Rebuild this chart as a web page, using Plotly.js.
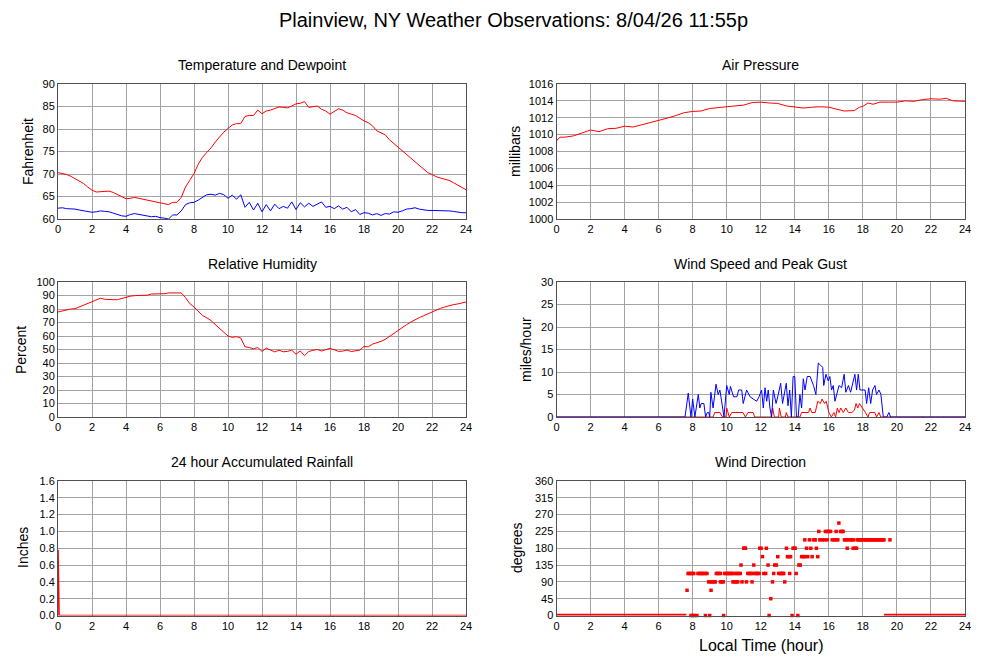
<!DOCTYPE html>
<html>
<head>
<meta charset="utf-8">
<script src="https://cdn.plot.ly/plotly-3.0.1.min.js"></script>
<style>html,body{margin:0;padding:0;background:#fff;}#chart{width:1000px;height:660px;}</style>
</head>
<body>
<div id="chart"></div>
<script>
// ---------- DATA ----------
var hourTicks = [0,2,4,6,8,10,12,14,16,18,20,22,24];

var qHours = [0,0.25,0.5,0.75,1,1.25,1.5,1.75,2,2.25,2.5,2.75,3,3.25,3.5,3.75,4,4.25,4.5,4.75,5,5.25,5.5,5.75,6,6.25,6.5,6.75,7,7.25,7.5,7.75,8,8.25,8.5,8.75,9,9.25,9.5,9.75,10,10.25,10.5,10.75,11,11.25,11.5,11.75,12,12.25,12.5,12.75,13,13.25,13.5,13.75,14,14.25,14.5,14.75,15,15.25,15.5,15.75,16,16.25,16.5,16.75,17,17.25,17.5,17.75,18,18.25,18.5,18.75,19,19.25,19.5,19.75,20,20.25,20.5,20.75,21,21.25,21.5,21.75,22,22.25,22.5,22.75,23,23.25,23.5,23.75,24];

var temperature = [70.3,70.1,69.9,69.5,69.0,68.5,67.9,67.1,66.4,66.0,66.1,66.2,66.2,65.9,65.4,65.0,64.5,64.6,64.8,64.6,64.4,64.2,64.0,63.8,63.6,63.4,63.2,63.7,63.7,64.8,67.1,68.6,70.1,72.2,73.7,74.8,75.8,77.1,78.3,79.3,80.1,80.9,81.2,81.2,82.8,83.0,83.0,84.2,83.4,84.0,84.2,84.6,84.9,84.8,84.7,85.1,85.6,85.7,86.1,84.8,84.9,85.1,84.4,84.0,83.3,84.0,84.5,84.2,83.6,83.3,83.0,82.4,81.8,81.4,80.7,79.6,79.1,78.7,77.6,76.8,76.0,75.2,74.4,73.6,72.7,71.8,71.0,70.3,69.9,69.4,69.1,68.8,68.6,68.1,67.6,67.1,66.5];

var dewpoint = [62.4,62.5,62.3,62.3,62.2,62.0,61.8,61.6,61.5,61.6,61.8,61.7,61.6,61.3,61.0,60.7,60.6,61.0,61.2,61.0,60.9,60.7,60.5,60.6,60.3,60.2,60.0,60.9,60.9,61.8,63.2,63.6,63.7,64.2,64.9,65.4,65.5,65.3,65.7,65.4,64.6,65.3,64.4,65.4,62.6,63.7,62.0,63.5,61.6,63.2,61.8,63.3,62.3,62.8,62.4,63.8,62.1,63.6,62.7,63.5,62.8,63.3,63.8,62.6,62.8,62.3,62.9,62.2,62.6,61.6,62.1,61.0,61.4,61.3,60.9,61.2,60.8,61.2,61.1,61.6,61.5,61.8,62.2,62.3,62.5,62.2,62.0,61.9,61.9,61.9,61.8,61.9,61.8,61.7,61.5,61.4,61.4];

var humidity = [77.8,78.5,79.5,80.0,80.2,81.5,83.0,84.2,85.7,87.0,88.0,87.2,86.9,86.9,86.9,87.8,88.9,89.5,89.9,89.9,89.9,90.2,91.1,91.1,91.1,91.3,91.9,91.9,91.9,91.9,88.5,84.0,81.5,78.5,75.2,73.5,71.4,68.5,65.5,62.5,60.0,59.0,59.5,58.5,52.0,51.5,50.5,51.5,48.6,51.0,49.5,48.2,49.5,48.3,48.6,49.5,46.5,49.0,45.4,48.5,49.4,50.0,48.9,49.6,50.8,49.8,48.6,48.8,49.6,48.5,49.2,49.5,52.3,52.0,54.0,54.8,56.0,57.5,59.8,62.0,64.0,66.2,68.4,70.3,72.1,73.6,75.0,76.5,78.0,79.3,80.5,81.5,82.5,83.2,83.7,84.5,85.2];

var pressureHours = [0,0.2,0.5,1,1.5,2,2.5,3,3.5,4,4.5,5,5.5,6,6.5,7,7.5,8,8.5,9,9.5,10,10.5,11,11.5,12,12.5,13,13.5,14,14.5,15,15.5,16,16.5,16.9,17.5,17.8,18,18.3,18.6,19,19.5,20,20.5,21,21.5,22,22.5,22.9,23.3,24];
var pressure = [1009.25,1009.7,1009.7,1009.85,1010.2,1010.55,1010.35,1010.7,1010.75,1011.0,1010.9,1011.15,1011.45,1011.7,1011.95,1012.25,1012.6,1012.75,1012.8,1013.1,1013.2,1013.3,1013.35,1013.5,1013.8,1013.85,1013.75,1013.7,1013.4,1013.3,1013.15,1013.25,1013.3,1013.25,1013.05,1012.8,1012.85,1013.25,1013.35,1013.75,1013.6,1013.85,1013.85,1013.85,1014.0,1013.95,1014.15,1014.25,1014.2,1014.3,1014.0,1013.95];

var gustHours = [0,7.55,7.74,7.9,8.0,8.13,8.33,8.42,8.5,8.66,8.76,8.86,8.95,9.0,9.07,9.2,9.37,9.5,9.6,9.7,9.84,10.0,10.15,10.22,10.4,10.6,10.7,10.88,10.97,11.17,11.37,11.56,11.76,11.9,12.05,12.15,12.25,12.35,12.44,12.54,12.64,12.74,12.9,13.03,13.17,13.28,13.42,13.5,13.6,13.7,13.8,13.9,14.0,14.1,14.2,14.3,14.4,14.5,14.6,14.73,14.9,15.1,15.24,15.38,15.52,15.64,15.7,15.83,15.97,16.06,16.16,16.26,16.36,16.5,16.6,16.75,16.9,17.0,17.15,17.28,17.44,17.53,17.63,17.73,17.83,17.98,18.13,18.22,18.34,18.46,18.57,18.71,18.8,18.95,19.06,19.2,19.4,19.53,19.63,24];
var peakGust = [0,0,5.3,0,4,0,5,2,3,3,0,1,1,0,5.5,2,7.3,5,6,3,0,7,5,6.8,4.5,4.5,6,6,3,6,4.5,4,3.5,4.5,6,2,6.5,3.5,6,2,0,6,3,5,7.5,3,5.5,7.5,2.5,6,0,9,9,0,0,5,2,8.5,6,9,9,7,5,12,11.5,11,7,9.5,8,9,6,7,3.5,6,7,6.5,9.5,5.5,7,5.5,8,9.5,6,9.5,6,6,6,3,6.5,3,6,7,5,6,5,0,0,1,0,0];

var speedHours = [0,9.2,9.3,9.6,9.75,9.95,10.0,10.15,10.3,10.95,11.1,11.25,11.55,11.65,12.6,12.7,12.8,13.05,13.1,13.2,13.45,13.5,13.6,14.3,14.4,14.8,14.9,15.0,15.2,15.35,15.5,15.6,15.75,15.85,16.0,16.15,16.3,16.4,16.5,16.6,16.7,16.85,17.0,17.15,17.35,17.5,17.6,17.7,17.8,17.9,18.0,18.15,18.3,18.4,18.7,18.8,18.95,19.05,24];
var windSpeed = [0,0,1,1,0,0,2,0,1,1,0,1,1,0,0,2,0,0,2,0,0,1,0,0,1,1,2,1,1,3.5,3,4,3,3.5,1,0,1,0,2,1,2,1,2,1,1,1.5,3,2,3,2.5,2,1,0,1,1,0,1,0,0];

var rainHours = [0,0.02,0.06,24];
var rainfall = [0.78,0.3,0,0];

// wind direction observations, grouped by reported direction (degrees)
var dirLevels = [0,45,67.5,90,112.5,135,157.5,180,202.5,225,247.5];
var dirHours = [
  [7.9,8.0,8.1,8.25,8.75,9.0,9.82,12.49,13.84,14.18],
  [12.59],
  [7.67,9.08],
  [8.94,9.05,9.15,9.25,9.33,9.63,9.72,9.8,10.37,10.45,10.55,10.65,10.9,11.16,11.49,12.69,13.41],
  [7.73,7.8,7.9,7.98,8.06,8.31,8.4,8.48,8.56,8.65,8.75,8.84,9.39,9.47,9.55,9.63,9.88,9.96,10.04,10.12,10.2,10.28,10.36,10.5,10.6,10.7,10.8,11.24,11.32,11.41,11.49,11.65,11.73,11.82,11.9,12.18,12.29,12.76,13.06,13.14,13.22,13.3,13.35,13.7,14.08],
  [10.84,11.59,12.43,12.82,12.92,14.24,14.32],
  [12.1,13.0,13.57,13.65,13.75,14.4,14.5,14.6,14.76,15.02,15.35],
  [11.0,11.05,11.1,11.94,12.02,12.33,13.51,13.9,13.96,14.02,14.69,14.94,15.27,17.08,17.43,17.55,17.63],
  [14.59,14.86,15.1,15.2,15.47,15.61,15.75,15.9,16.2,16.3,16.4,16.53,16.92,17.0,17.12,17.25,17.35,17.45,17.67,17.75,17.83,17.92,18.0,18.08,18.17,18.25,18.33,18.42,18.5,18.58,18.67,18.75,18.83,18.92,19.0,19.08,19.17,19.24,19.59],
  [15.41,15.8,15.9,16.0,16.1,16.43,16.69,16.77,16.84],
  [16.59]
];
// calm (0 degree) reporting periods, shown as a continuous run of dots
var calmStart = [0, 19.24];
var calmEnd = [7.63, 24];

// ---------- STYLE ----------
var FONT = '"Liberation Sans", Arial, Helvetica, sans-serif';
var GRID = '#a3a3a3';
var FRAME = '#505050';
var RED = '#ff0000';
var BLUE = '#0000ff';

function xAxis(domain, anchor) {
  return {domain: domain, anchor: anchor, range: [0, 24], tickvals: hourTicks,
    showgrid: true, gridcolor: GRID, gridwidth: 1, zeroline: false,
    showline: true, mirror: true, linecolor: FRAME, linewidth: 1,
    ticks: '', tickfont: {family: FONT, size: 11, color: '#000'}, fixedrange: true};
}
function yAxis(domain, anchor, range, dtick, fmt) {
  var a = {domain: domain, anchor: anchor, range: range, dtick: dtick, tick0: range[0],
    showgrid: true, gridcolor: GRID, gridwidth: 1, zeroline: false,
    showline: true, mirror: true, linecolor: FRAME, linewidth: 1,
    ticks: '', tickfont: {family: FONT, size: 11, color: '#000'}, fixedrange: true};
  if (fmt) a.tickformat = fmt;
  return a;
}

var XL = [0.058, 0.466], XR = [0.5565, 0.965];
var YT = [1 - 219/660, 1 - 84/660], YM = [1 - 417/660, 1 - 282/660], YB = [1 - 615.5/660, 1 - 481/660];

var traces = [];
traces.push({x: qHours, y: temperature, xaxis: 'x', yaxis: 'y', mode: 'lines', line: {color: RED, width: 1}});
traces.push({x: qHours, y: dewpoint, xaxis: 'x', yaxis: 'y', mode: 'lines', line: {color: BLUE, width: 1}});
traces.push({x: pressureHours, y: pressure, xaxis: 'x2', yaxis: 'y2', mode: 'lines', line: {color: RED, width: 1}});
traces.push({x: qHours, y: humidity, xaxis: 'x3', yaxis: 'y3', mode: 'lines', line: {color: RED, width: 1}});
traces.push({x: speedHours, y: windSpeed, xaxis: 'x4', yaxis: 'y4', mode: 'lines', line: {color: RED, width: 1}, cliponaxis: false});
traces.push({x: gustHours, y: peakGust, xaxis: 'x4', yaxis: 'y4', mode: 'lines', line: {color: BLUE, width: 1}});
traces.push({x: rainHours, y: rainfall, xaxis: 'x5', yaxis: 'y5', mode: 'lines', line: {color: RED, width: 1.6}});
for (var c = 0; c < calmStart.length; c++) {
  traces.push({x: [calmStart[c], calmEnd[c]], y: [0, 0], xaxis: 'x6', yaxis: 'y6', mode: 'lines', line: {color: RED, width: 3.5}, cliponaxis: false});
}
var dx = [], dy = [];
for (var i = 0; i < dirLevels.length; i++) {
  for (var j = 0; j < dirHours[i].length; j++) { dx.push(dirHours[i][j]); dy.push(dirLevels[i]); }
}
traces.push({x: dx, y: dy, xaxis: 'x6', yaxis: 'y6', mode: 'markers', cliponaxis: false,
  marker: {symbol: 'square', size: 3.5, color: RED, line: {width: 0}}});

function ann(text, x, y, size, angle) {
  return {text: text, x: x, y: y, xref: 'paper', yref: 'paper', showarrow: false,
    xanchor: 'center', yanchor: 'middle', textangle: angle || 0,
    font: {family: FONT, size: size, color: '#000'}};
}

var layout = {
  width: 1000, height: 660, showlegend: false,
  paper_bgcolor: '#fff', plot_bgcolor: '#fff',
  margin: {l: 0, r: 0, t: 0, b: 0},
  title: {text: 'Plainview, NY Weather Observations: 8/04/26 11:55p', x: 0.5135, xanchor: 'center', y: 1 - 20/660, yanchor: 'middle',
    font: {family: FONT, size: 20, color: '#000'}},
  xaxis: xAxis(XL, 'y'), yaxis: yAxis(YT, 'x', [60, 90], 5),
  xaxis2: xAxis(XR, 'y2'), yaxis2: yAxis(YT, 'x2', [1000, 1016], 2),
  xaxis3: xAxis(XL, 'y3'), yaxis3: yAxis(YM, 'x3', [0, 100], 10),
  xaxis4: xAxis(XR, 'y4'), yaxis4: yAxis(YM, 'x4', [0, 30], 5),
  xaxis5: xAxis(XL, 'y5'), yaxis5: yAxis(YB, 'x5', [0, 1.6], 0.2, '.1f'),
  xaxis6: xAxis(XR, 'y6'), yaxis6: yAxis(YB, 'x6', [0, 360], 45),
  annotations: [
    ann('Temperature and Dewpoint', 0.262, 1 - 65/660, 14),
    ann('Air Pressure', 0.7605, 1 - 65/660, 14),
    ann('Relative Humidity', 0.262, 1 - 264/660, 14),
    ann('Wind Speed and Peak Gust', 0.7605, 1 - 264/660, 14),
    ann('24 hour Accumulated Rainfall', 0.262, 1 - 462/660, 14),
    ann('Wind Direction', 0.7605, 1 - 462/660, 14),
    ann('Fahrenheit', 0.028, 1 - 152/660, 14, -90),
    ann('millibars', 0.515, 1 - 152/660, 14, -90),
    ann('Percent', 0.021, 1 - 350/660, 14, -90),
    ann('miles/hour', 0.526, 1 - 350/660, 14, -90),
    ann('Inches', 0.023, 1 - 548/660, 14, -90),
    ann('degrees', 0.517, 1 - 548/660, 14, -90),
    ann('Local Time (hour)', 0.761, 1 - 645/660, 16)
  ]
};

Plotly.newPlot('chart', traces, layout, {staticPlot: true, displayModeBar: false});
</script>
</body>
</html>
